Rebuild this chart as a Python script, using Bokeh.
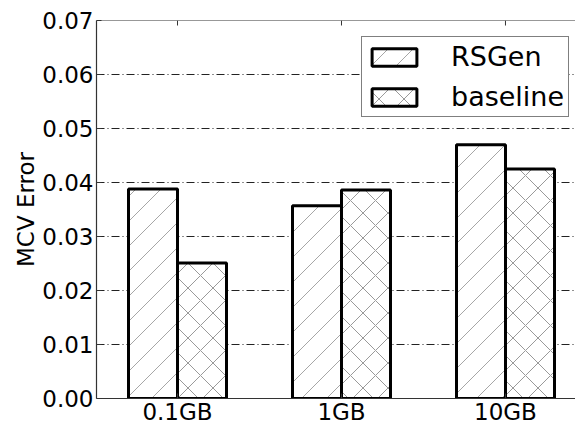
import math
from bokeh.plotting import figure
from bokeh.models import (ColumnDataSource, FixedTicker, LinearAxis, Legend, LegendItem,
                          PrintfTickFormatter, Range1d, Span, CanvasTexture)
from bokeh.core.properties import value
from bokeh.transform import dodge
from bokeh.embed import file_html
from bokeh.resources import INLINE

categories = ["0.1GB", "1GB", "10GB"]
rsgen = [0.0388, 0.0357, 0.0470]
baseline = [0.0251, 0.0386, 0.0425]
y_ticks = [0.00, 0.01, 0.02, 0.03, 0.04, 0.05, 0.06, 0.07]
y_label = "MCV Error"
series_names = ["RSGen", "baseline"]

idx = list(range(len(categories)))
src = ColumnDataSource(dict(x=idx, rsgen=rsgen, baseline=baseline))

FONT = "DejaVu Sans"
AXIS_COLOR = "#333333"
HATCH = "#999999"

p = figure(width=575, height=427, output_backend="svg", toolbar_location=None,
           x_range=Range1d(-0.494, 2.427), y_range=Range1d(y_ticks[0], y_ticks[-1]),
           min_border_left=96, min_border_top=20, min_border_right=0, min_border_bottom=26,
           x_axis_location=None, y_axis_location=None)
p.outline_line_color = None
p.background_fill_color = "white"
p.border_fill_color = "white"

# axes
xaxis = LinearAxis(ticker=FixedTicker(ticks=idx),
                   major_label_overrides={i: c for i, c in zip(idx, categories)})
yaxis = LinearAxis(ticker=FixedTicker(ticks=y_ticks), formatter=PrintfTickFormatter(format="%.2f"),
                   axis_label=y_label)
for ax in (xaxis, yaxis):
    ax.major_tick_in = 5
    ax.major_tick_out = 0
    ax.minor_tick_line_color = None
    ax.axis_line_color = AXIS_COLOR
    ax.axis_line_width = 1.2
    ax.major_tick_line_color = AXIS_COLOR
    ax.major_label_text_font = FONT
    ax.major_label_text_font_size = "23px"
    ax.major_label_text_color = "black"
xaxis.major_label_standoff = 0
yaxis.major_label_standoff = 3
yaxis.axis_label_text_font = FONT
yaxis.axis_label_text_font_size = "23px"
yaxis.axis_label_text_font_style = "normal"
yaxis.axis_label_text_color = "black"
yaxis.axis_label_standoff = 0
p.add_layout(xaxis, "below")
p.add_layout(yaxis, "left")

# top spine with inward ticks
p.add_layout(Span(location=y_ticks[-1], dimension="width", line_color=AXIS_COLOR, line_width=1.2))
p.ray(x=idx, y=[y_ticks[-1]] * len(idx), length=5, length_units="screen",
      angle=-math.pi / 2, line_color=AXIS_COLOR, line_width=1)

# grid
p.xgrid.grid_line_color = None
p.ygrid.ticker = FixedTicker(ticks=y_ticks)
p.ygrid.grid_line_color = "#222222"
p.ygrid.grid_line_width = 1
p.ygrid.grid_line_dash = "8 3 1 3"
p.ygrid.level = "underlay"

# 45-degree single diagonal hatch (matplotlib "/"), drawn on a 25px tile
diag = CanvasTexture(repetition="repeat", code="""
var s = 25;
var c = ctx.canvas;
c.width = s; c.height = s;
ctx.setTransform(1, 0, 0, 1, 0, 0);
ctx.clearRect(0, 0, s, s);
ctx.strokeStyle = '#a6a6a6';
ctx.lineWidth = 1;
ctx.beginPath();
ctx.moveTo(-2, s + 2); ctx.lineTo(s + 2, -2);
ctx.moveTo(-2, 2); ctx.lineTo(2, -2);
ctx.moveTo(s - 2, s + 2); ctx.lineTo(s + 2, s - 2);
ctx.stroke();
""")

common = dict(width=0.2988, bottom=0, source=src, fill_color="white", line_color="black",
              line_width=3, hatch_color=HATCH, hatch_weight=1, hatch_scale=25)
r1 = p.vbar(x=dodge("x", -0.1494, range=p.x_range), top="rsgen",
            hatch_pattern=value("diag"), hatch_extra={"diag": diag}, **common)
r2 = p.vbar(x=dodge("x", 0.1494, range=p.x_range), top="baseline",
            hatch_pattern=value("x"), **common)

legend = Legend(items=[LegendItem(label=series_names[0], renderers=[r1]),
                       LegendItem(label=series_names[1], renderers=[r2])],
                location=(265, 281), orientation="vertical")
legend.border_line_color = "black"
legend.border_line_width = 1
legend.background_fill_alpha = 1
legend.label_text_font = FONT
legend.label_text_font_size = "27px"
legend.label_text_color = "black"
legend.glyph_width = 56
legend.glyph_height = 22
legend.label_standoff = 29
legend.padding = 4
legend.spacing = 9
legend.margin = 0
p.add_layout(legend)

open("out.html", "w").write(file_html(p, INLINE))
